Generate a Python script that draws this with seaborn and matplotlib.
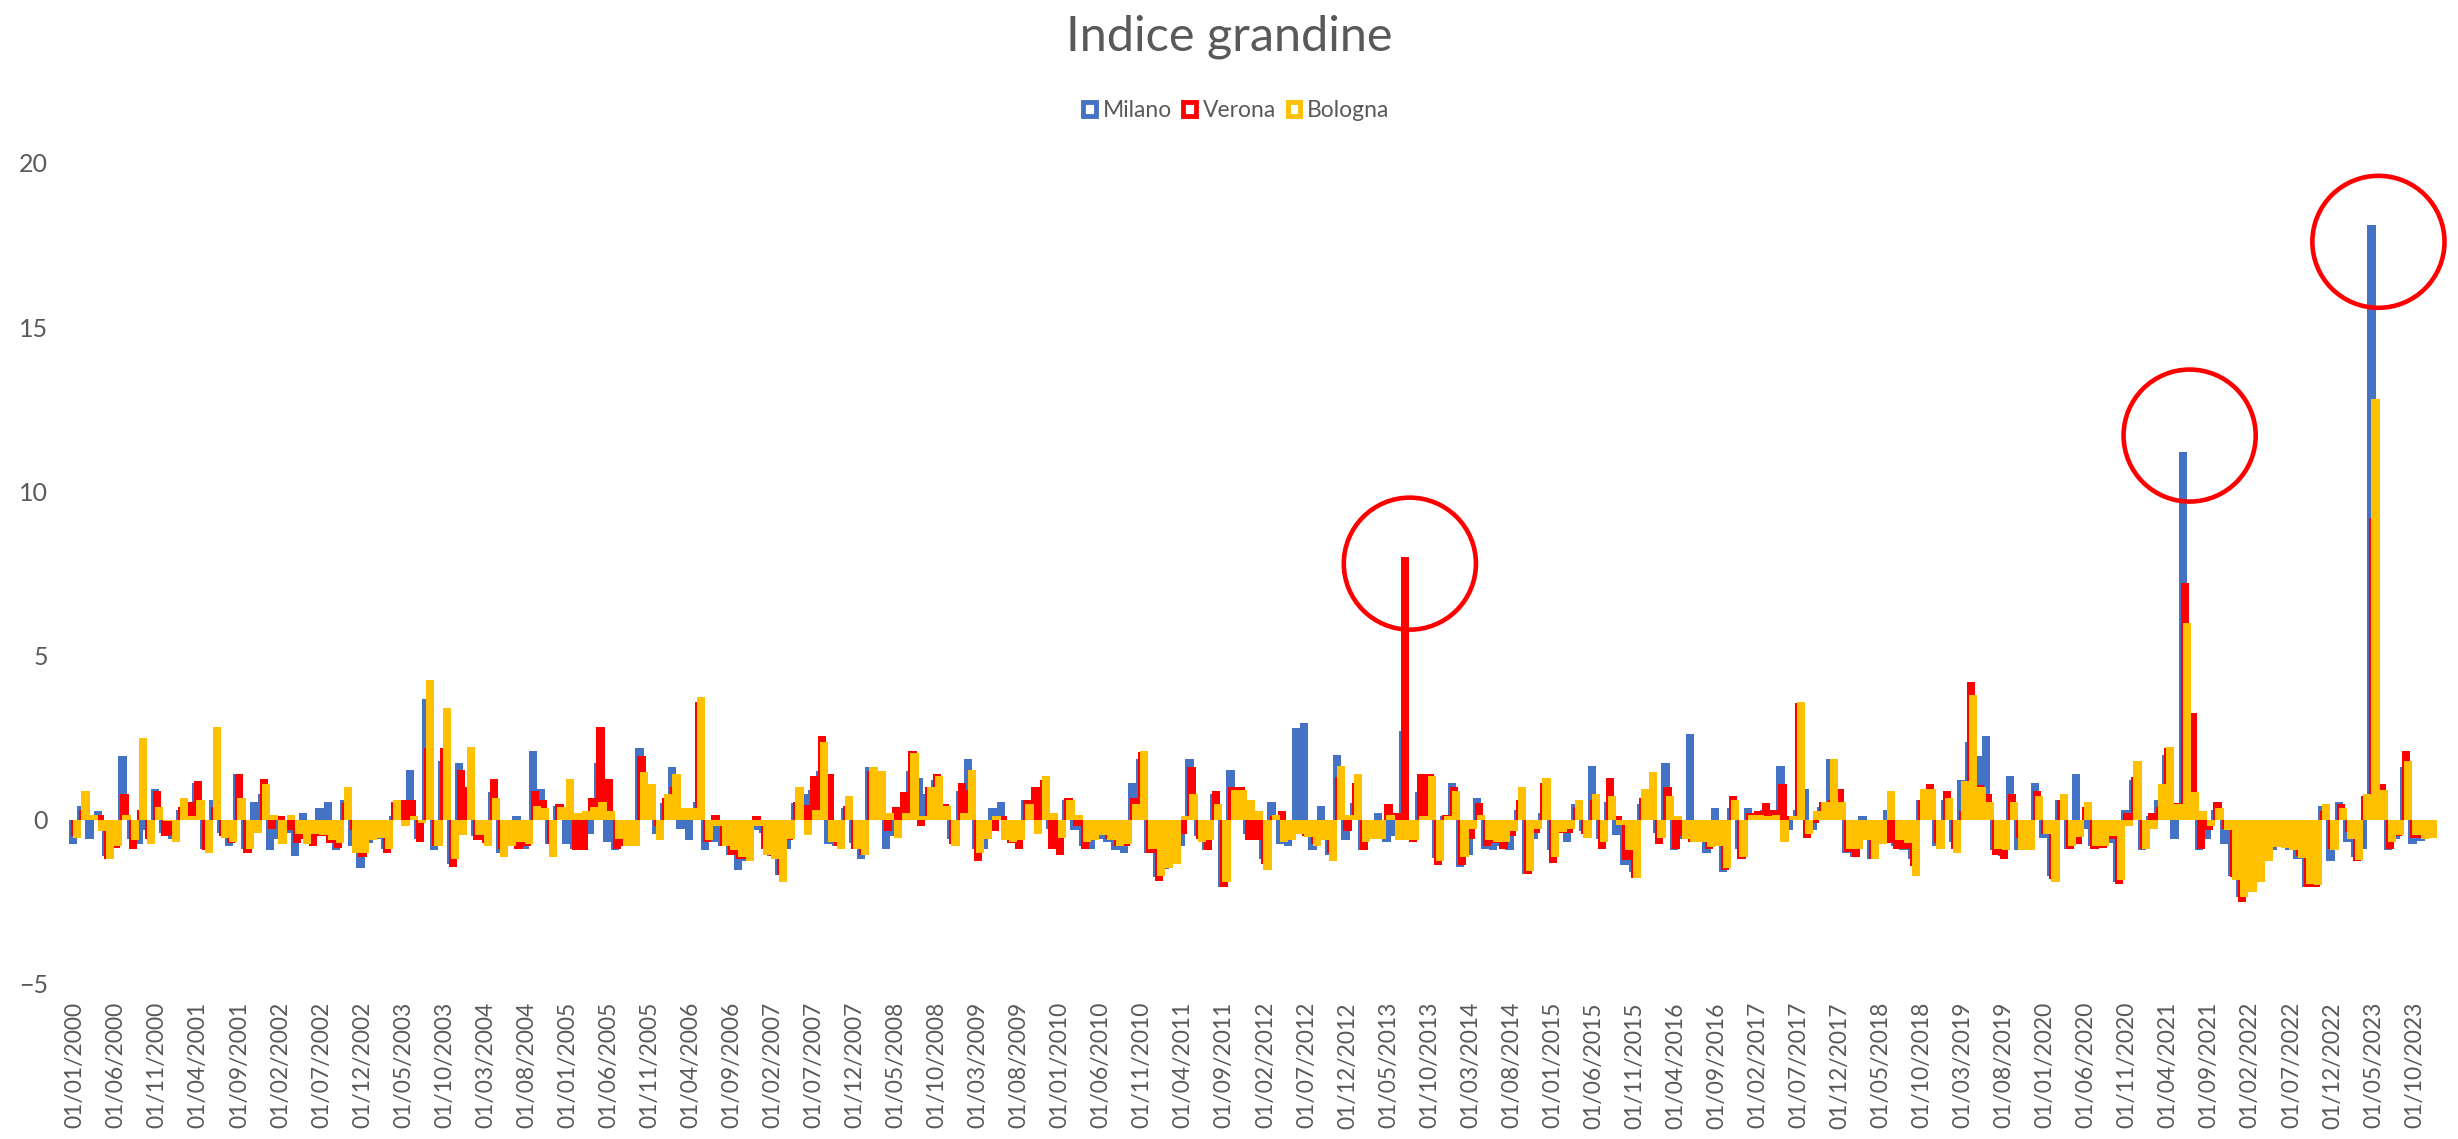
import numpy as np
import pandas as pd
import matplotlib.pyplot as plt
import seaborn as sns
from matplotlib.patches import Ellipse, Patch

# monthly hail index, Jan 2000 - Dec 2023
milano = [
    -0.75, 0.42, -0.6, 0.27, -1.1, -0.85, 1.93, -0.6, -0.75, -0.3, 0.93, -0.4, -0.6, 0.3, 0.2, 1.13, -0.9, 0.6, -0.4, -0.8, 1.4, -0.88, 0.55,
    0.8, -0.93, -0.6, -0.4, -1.1, 0.22, -0.5, 0.35, 0.55, -0.93, 0.6, -0.8, -1.46, -0.7, -0.6, -0.9, 0.1, 0.2, 1.52, -0.6, 3.68, -0.93, 1.78, -1.34,
    1.72, 0.8, -0.5, -0.6, 0.86, -1.0, -0.7, 0.1, -0.88, 2.1, 0.93, -0.75, 0.42, -0.75, -0.88, -0.5, -0.42, 1.72, -0.68, -0.93, -0.7, -0.75, 2.18, 1.0,
    -0.42, 0.5, 1.6, -0.27, -0.62, 0.55, -0.93, -0.68, -0.8, -1.06, -1.52, -1.25, -0.3, -0.4, -1.1, -1.69, -0.88, 0.5, 0.8, 0.9, 1.5, -0.75, -0.8, 0.35, -0.7,
    -1.2, 1.6, 0.67, -0.88, -0.5, 0.3, 1.5, 1.26, 0.8, 1.2, 0.3, -0.6, 0.87, 1.85, -0.9, -0.9, 0.35, 0.55, -0.6, -0.7, 0.6, 0.4, 0.9, -0.27,
    -0.3, 0.6, -0.3, -0.8, -0.88, -0.57, -0.68, -0.93, -1.0, 1.13, 1.85, -1.0, -1.75, -1.5, -1.3, -0.8, 1.85, -0.5, -0.93, 0.8, -2.05, 1.52, 0.5, -0.42,
    -0.5, -1.18, 0.55, -0.75, -0.8, 2.78, 2.95, -0.93, 0.42, -1.06, 1.98, -0.62, 0.5, -0.93, -0.6, 0.22, -0.68, -0.5, 2.7, -0.6, 0.86, 1.0, -1.15, 0.1, 1.13,
    -1.44, -1.06, 0.67, -0.88, -0.93, -0.8, -0.93, 0.3, -1.64, -0.6, 0.2, -0.93, -0.3, -0.68, 0.48, -0.34, 1.65, -0.6, 0.55, -0.47, -1.38, -1.6, 0.48, 0.3,
    -0.4, 1.72, -0.93, -0.6, 2.62, -0.62, -1.0, 0.35, -1.59, 0.35, -0.9, 0.35, 0.2, 0.3, 0.2, 1.65, -0.3, 0.3, 0.93, -0.3, 0.4, 1.85, 0.5, -1.0, -1.13,
    0.1, -1.2, -0.7, 0.3, -0.8, -0.93, -1.2, 0.6, 0.5, -0.8, 0.6, -0.68, 1.2, 2.37, 1.93, 2.56, -0.93, -1.1, 1.34, -0.93, -0.93, 1.13, -0.55, -1.72,
    0.6, -0.88, 1.4, -0.27, -0.8, -0.8, -0.7, -1.9, 0.3, 1.2, -0.93, 0.1, 0.6, 1.98, -0.6, 11.2, 0.5, -0.93, -0.6, 0.3, -0.75, -1.7, -2.36, -2.2,
    -1.9, -1.24, -0.93, -0.8, -0.93, -1.18, -2.05, -2.0, 0.42, -1.25, 0.55, -0.68, -1.13, -0.88, 18.1, 0.9, -0.93, -0.6, 1.6, -0.75, -0.65, -0.5,
]
verona = [
    -0.5, 0.3, 0.16, 0.15, -1.18, -0.85, 0.8, -0.88, 0.3, -0.6, 0.87, -0.5, -0.45, 0.4, 0.55, 1.19, -0.93, 0.4, -0.5, -0.7, 1.4, -1.0, -0.3,
    1.25, -0.27, 0.1, -0.3, -0.7, -0.6, -0.8, -0.5, -0.7, -0.85, 0.5, -0.3, -1.13, -0.6, -0.5, -1.0, 0.55, 0.6, 0.6, -0.68, 2.18, -0.8, 2.18, -1.44,
    1.52, 1.0, -0.62, -0.7, 1.25, -0.9, -0.8, -0.88, -0.8, 0.87, 0.6, -0.75, 0.48, 0.3, -0.93, -0.93, 0.67, 2.83, 1.25, -0.88, -0.8, -0.7, 1.93, 0.9,
    -0.2, 0.67, 1.0, 0.2, 0.2, 3.6, -0.68, 0.16, -0.8, -1.06, -1.18, -1.2, 0.1, -0.88, -1.1, -1.69, -0.62, 0.55, 0.45, 1.34, 2.56, 1.4, -0.8, 0.42, -0.88,
    -1.06, 1.5, 0.5, -0.33, 0.4, 0.86, 2.1, -0.2, 1.0, 1.4, 0.48, -0.75, 1.13, 0.9, -1.25, -0.42, -0.35, 0.1, -0.7, -0.88, 0.6, 1.0, 1.2, -0.88,
    -1.08, 0.67, -0.2, -0.88, -0.57, -0.42, -0.6, -0.8, -0.8, 0.67, 2.05, -1.0, -1.85, -1.46, -1.34, -0.42, 1.6, -0.6, -0.93, 0.87, -2.05, 1.0, 1.0, -0.62,
    -0.62, -1.34, 0.1, 0.27, -0.6, -0.4, -0.5, -0.75, -0.5, -1.0, 1.3, -0.33, 1.13, -0.93, -0.55, -0.5, 0.48, 0.2, 8.0, -0.68, 1.38, 1.4, -1.38, 0.16, 1.0,
    -1.38, -0.6, 0.5, -0.8, -0.7, -0.88, -0.5, 0.6, -1.64, -0.4, 1.13, -1.32, -0.4, -0.4, 0.4, -0.42, 0.6, -0.88, 1.26, 0.1, -1.23, -1.77, 0.67, 0.8,
    -0.75, 1.0, -0.88, -0.5, -0.68, -0.62, -0.88, -0.6, -1.52, 0.73, -1.18, 0.2, 0.27, 0.5, 0.3, 1.08, 0.1, 3.56, -0.55, -0.1, 0.55, 0.6, 0.93, -0.97, -1.13,
    -0.3, -1.2, -0.7, -0.7, -0.88, -0.88, -1.4, 0.6, 1.08, -0.7, 0.87, -0.88, 0.27, 4.2, 1.06, 0.8, -1.06, -1.2, 0.8, -0.55, -0.7, 0.87, -0.42, -1.8,
    0.6, -0.88, -0.75, 0.4, -0.88, -0.85, -0.6, -1.95, 0.2, 1.3, -0.88, 0.2, 0.4, 2.18, 0.5, 7.2, 3.25, -0.88, -0.3, 0.55, -0.27, -1.75, -2.5, -2.2,
    -1.9, -1.24, -0.7, -0.7, -0.82, -1.1, -2.05, -2.05, 0.27, -0.9, 0.48, -0.37, -1.24, 0.73, 9.2, 1.08, -0.88, -0.5, 2.1, -0.55, -0.55, -0.4,
]
bologna = [
    -0.55, 0.87, 0.15, -0.33, -1.18, -0.8, 0.16, -0.62, 2.5, -0.75, 0.4, -0.05, -0.68, 0.67, 0.1, 0.6, -1.0, 2.83, -0.55, -0.68, 0.67, -0.88, -0.4,
    1.08, 0.15, -0.75, 0.15, -0.42, -0.75, -0.42, -0.47, -0.62, -0.7, 1.0, -1.0, -1.0, -0.62, -0.55, -0.88, 0.6, -0.2, 0.1, -0.1, 4.26, -0.8, 3.4, -1.18,
    -0.47, 2.23, -0.47, -0.8, 0.67, -1.13, -0.8, -0.68, -0.75, 0.42, 0.35, -1.13, 0.4, 1.25, 0.2, 0.27, 0.4, 0.55, 0.27, -0.57, -0.8, -0.8, 1.47, 1.08,
    -0.62, 0.8, 1.4, 0.35, 0.35, 3.73, -0.62, -0.2, -0.8, -0.93, -1.13, -1.25, -0.2, -1.06, -1.18, -1.9, -0.6, 1.0, -0.47, 0.3, 2.37, -0.68, -0.88, 0.73, -0.88,
    -1.06, 1.6, 1.5, 0.2, -0.55, 0.2, 2.03, 0.13, 1.0, 1.34, 0.42, -0.8, 0.2, 1.52, -1.0, -0.6, 0.1, -0.62, -0.68, -0.62, 0.48, -0.42, 1.34, 0.2,
    -0.55, 0.6, 0.16, -0.68, -0.62, -0.47, -0.62, -0.8, -0.75, 0.48, 2.1, -0.88, -1.72, -1.46, -1.34, 0.1, 0.8, -0.68, -0.62, 0.48, -1.9, 0.9, 0.9, 0.6,
    0.27, -1.52, 0.16, -0.68, -0.62, -0.42, -0.52, -0.8, -0.62, -1.25, 1.65, 0.16, 1.4, -0.68, -0.6, -0.6, 0.16, -0.62, -0.62, -0.62, 0.1, 1.34, -1.25, 0.1, 0.88,
    -1.13, -0.27, 0.16, -0.62, -0.68, -0.68, -0.33, 1.0, -1.56, -0.27, 1.26, -1.13, -0.37, -0.27, 0.6, -0.55, 0.8, -0.68, 0.73, -0.16, -0.93, -1.77, 0.93, 1.47,
    -0.55, 0.73, 0.1, -0.6, -0.68, -0.68, -0.83, -0.8, -1.46, 0.6, -1.13, 0.16, 0.16, 0.1, 0.15, -0.68, 0.1, 3.6, -0.42, 0.27, 0.55, 1.85, 0.55, -0.88, -0.9,
    -0.62, -1.2, -0.75, 0.87, -0.62, -0.72, -1.72, 0.93, 0.93, -0.88, 0.67, -1.0, 1.19, 3.8, 1.0, 0.55, -0.88, -0.93, 0.55, -0.93, -0.93, 0.73, -0.42, -1.9,
    0.8, -0.8, -0.52, 0.55, -0.8, -0.8, -0.5, -1.83, -0.2, 1.78, -0.88, -0.27, 1.08, 2.23, 0.48, 6.0, 0.86, 0.27, -0.2, 0.35, -0.3, -1.83, -2.36, -2.2,
    -1.9, -1.24, -0.83, -0.85, -0.93, -1.15, -1.95, -2.0, 0.48, -0.93, 0.35, -0.6, -1.21, 0.8, 12.8, 0.9, -0.68, -0.47, 1.78, -0.45, -0.6, -0.55,
]

series_names = ["Milano", "Verona", "Bologna"]
series_colors = ["#4472C4", "#FF0000", "#FFC000"]
series_shift = [-0.25, 0.0, 0.25]

# month index of the circled peaks (2013, 2021, 2023)
peak_months = [162, 257, 280]

months = pd.date_range("2000-01-01", periods=len(milano), freq="MS")
tick_labels = months.strftime("%d/%m/%Y")

df = pd.DataFrame({"idx": np.arange(len(milano)), "Milano": milano,
                   "Verona": verona, "Bologna": bologna})

sns.set_theme(style="white")
plt.rcParams["font.family"] = ["Lato", "DejaVu Sans"]
grey = "#595959"

fig = plt.figure(figsize=(24.58, 11.39), dpi=100)
ax = fig.add_axes([0.0281, 0.1361, 0.9634, 0.7208])

for name, col, shift in zip(series_names, series_colors, series_shift):
    sns.barplot(x=df["idx"] + shift, y=df[name], native_scale=True, orient="x",
                width=1.0, color=col, saturation=1, errorbar=None,
                linewidth=0, ax=ax)

ax.set_xlim(-0.75, len(milano) - 0.25)
ax.set_ylim(-5, 20)
ax.set_yticks(range(-5, 21, 5))
ax.set_xticks(df["idx"][::5])
ax.set_xticklabels(tick_labels[::5], rotation=90)
ax.set(xlabel="", ylabel="")
ax.tick_params(axis="y", labelsize=18, labelcolor=grey, pad=15, length=0)
ax.tick_params(axis="x", labelsize=16.5, labelcolor=grey, pad=13, length=0)
sns.despine(ax=ax, left=True, bottom=True)

# red circles around the three peaks
for m, dy in zip(peak_months, [-0.2, 0.5, -0.5]):
    top = max(milano[m], verona[m], bologna[m])
    ax.add_patch(Ellipse((m + 0.6, top + dy), width=16.1, height=4.02,
                         fill=False, edgecolor="#FF0000", linewidth=3.3,
                         clip_on=False, zorder=5))

fig.text(0.5, 0.968, "Indice grandine", ha="center", va="center",
         fontsize=35, color=grey)

handles = [Patch(facecolor="white", edgecolor=c, linewidth=3.5) for c in series_colors]
fig.legend(handles, series_names, loc="center", bbox_to_anchor=(0.503, 0.903),
           ncol=3, frameon=False, fontsize=16.5, labelcolor=grey,
           handlelength=0.55, handleheight=0.55, handletextpad=0.3,
           columnspacing=0.5)

fig.savefig("out.png", dpi=100)
